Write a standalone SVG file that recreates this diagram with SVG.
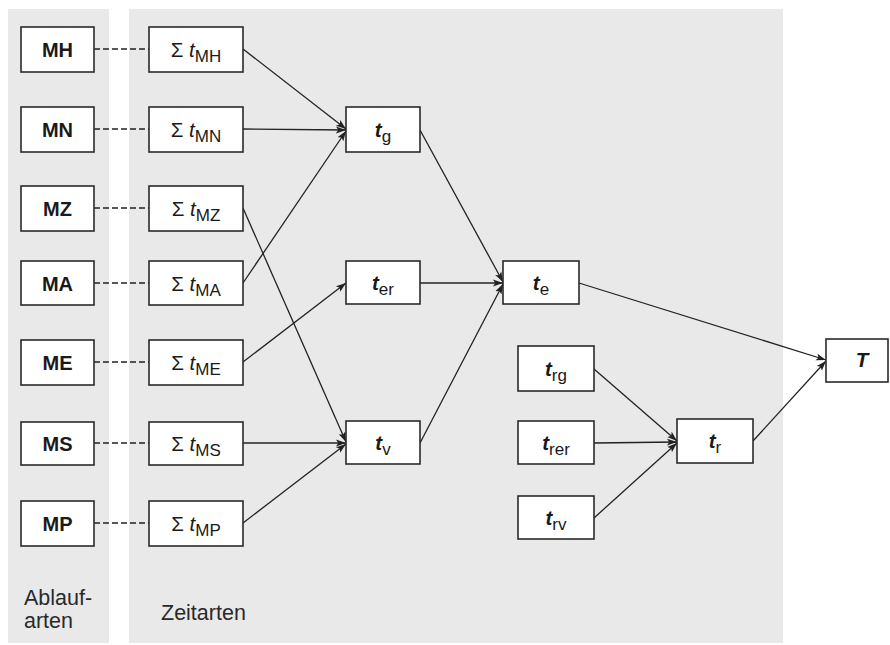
<svg xmlns="http://www.w3.org/2000/svg" width="890" height="645" viewBox="0 0 890 645">
<style>
text{font-family:"Liberation Sans",Arial,sans-serif;fill:#1a1a1a}
.box{fill:#fff;stroke:#2a2a2a;stroke-width:1.6}
.lb{font-size:20px;font-weight:bold}
.sg{font-size:20.5px}
.sub{font-size:17px;font-weight:normal;font-style:normal}
.it{font-style:italic}
.bi{font-style:italic;font-weight:bold}
.cap{font-size:21.5px;fill:#2a2a2a}
.dash{stroke:#222;stroke-width:1.3;stroke-dasharray:6,3;fill:none}
.arr{stroke:#222;stroke-width:1.3;fill:none;marker-end:url(#ah)}
</style>
<defs>
<marker id="ah" markerWidth="11" markerHeight="9" refX="10" refY="4.5" orient="auto" markerUnits="userSpaceOnUse">
<path d="M0,1 L10,4.5 L0,8 L2.2,4.5 Z" fill="#222"/>
</marker>
</defs>
<rect width="890" height="645" fill="#fff"/>
<rect x="8" y="9" width="101" height="634" fill="#e9e9e9"/>
<rect x="129" y="9" width="654" height="634" fill="#e9e9e9"/>

<g id="connectors">
<line class="dash" x1="94" y1="49" x2="149" y2="49"/>
<line class="dash" x1="94" y1="129" x2="149" y2="129"/>
<line class="dash" x1="94" y1="208" x2="149" y2="208"/>
<line class="dash" x1="94" y1="283" x2="149" y2="283"/>
<line class="dash" x1="94" y1="362" x2="149" y2="362"/>
<line class="dash" x1="94" y1="443" x2="149" y2="443"/>
<line class="dash" x1="94" y1="523" x2="149" y2="523"/>
<line class="arr" x1="243" y1="49" x2="346" y2="129"/>
<line class="arr" x1="243" y1="129" x2="346" y2="130"/>
<line class="arr" x1="243" y1="283" x2="346" y2="131"/>
<line class="arr" x1="243" y1="208" x2="346" y2="442"/>
<line class="arr" x1="243" y1="362" x2="346" y2="283"/>
<line class="arr" x1="243" y1="443" x2="346" y2="443"/>
<line class="arr" x1="243" y1="523" x2="346" y2="444"/>
<line class="arr" x1="420" y1="130" x2="503" y2="282"/>
<line class="arr" x1="420" y1="283" x2="503" y2="283"/>
<line class="arr" x1="420" y1="443" x2="503" y2="284"/>
<line class="arr" x1="579" y1="283" x2="826" y2="360"/>
<line class="arr" x1="594" y1="369" x2="677" y2="441"/>
<line class="arr" x1="594" y1="443" x2="677" y2="442"/>
<line class="arr" x1="594" y1="518" x2="677" y2="443"/>
<line class="arr" x1="753" y1="441" x2="826" y2="361"/>
</g>

<g id="MH"><rect class="box" x="21" y="27" width="73" height="45"/><text class="lb" x="57.5" y="57" text-anchor="middle">MH</text></g>
<g id="MN"><rect class="box" x="21" y="107" width="73" height="45"/><text class="lb" x="57.5" y="137" text-anchor="middle">MN</text></g>
<g id="MZ"><rect class="box" x="21" y="186" width="73" height="45"/><text class="lb" x="57.5" y="216" text-anchor="middle">MZ</text></g>
<g id="MA"><rect class="box" x="21" y="261" width="73" height="44"/><text class="lb" x="57.5" y="291" text-anchor="middle">MA</text></g>
<g id="ME"><rect class="box" x="21" y="340" width="73" height="45"/><text class="lb" x="57.5" y="370" text-anchor="middle">ME</text></g>
<g id="MS"><rect class="box" x="21" y="422" width="73" height="43"/><text class="lb" x="57.5" y="451" text-anchor="middle">MS</text></g>
<g id="MP"><rect class="box" x="21" y="501" width="73" height="45"/><text class="lb" x="57.5" y="531" text-anchor="middle">MP</text></g>

<g id="tMH"><rect class="box" x="149" y="27" width="94" height="45"/><text class="sg" x="196" y="57" text-anchor="middle">Σ <tspan class="it">t</tspan><tspan class="sub" dy="5">MH</tspan></text></g>
<g id="tMN"><rect class="box" x="149" y="107" width="94" height="45"/><text class="sg" x="196" y="137" text-anchor="middle">Σ <tspan class="it">t</tspan><tspan class="sub" dy="5">MN</tspan></text></g>
<g id="tMZ"><rect class="box" x="149" y="186" width="94" height="45"/><text class="sg" x="196" y="216" text-anchor="middle">Σ <tspan class="it">t</tspan><tspan class="sub" dy="5">MZ</tspan></text></g>
<g id="tMA"><rect class="box" x="149" y="261" width="94" height="44"/><text class="sg" x="196" y="291" text-anchor="middle">Σ <tspan class="it">t</tspan><tspan class="sub" dy="5">MA</tspan></text></g>
<g id="tME"><rect class="box" x="149" y="340" width="94" height="45"/><text class="sg" x="196" y="370" text-anchor="middle">Σ <tspan class="it">t</tspan><tspan class="sub" dy="5">ME</tspan></text></g>
<g id="tMS"><rect class="box" x="149" y="422" width="94" height="43"/><text class="sg" x="196" y="451" text-anchor="middle">Σ <tspan class="it">t</tspan><tspan class="sub" dy="5">MS</tspan></text></g>
<g id="tMP"><rect class="box" x="149" y="501" width="94" height="45"/><text class="sg" x="196" y="531" text-anchor="middle">Σ <tspan class="it">t</tspan><tspan class="sub" dy="5">MP</tspan></text></g>

<g id="tg"><rect class="box" x="346" y="107" width="74" height="45"/><text class="sg" x="383" y="137" text-anchor="middle"><tspan class="bi">t</tspan><tspan class="sub" dy="5">g</tspan></text></g>
<g id="ter"><rect class="box" x="346" y="261" width="74" height="43"/><text class="sg" x="383" y="290" text-anchor="middle"><tspan class="bi">t</tspan><tspan class="sub" dy="5">er</tspan></text></g>
<g id="tv"><rect class="box" x="346" y="421" width="74" height="43"/><text class="sg" x="383" y="450" text-anchor="middle"><tspan class="bi">t</tspan><tspan class="sub" dy="5">v</tspan></text></g>
<g id="te"><rect class="box" x="503" y="261" width="76" height="43"/><text class="sg" x="541" y="290" text-anchor="middle"><tspan class="bi">t</tspan><tspan class="sub" dy="5">e</tspan></text></g>
<g id="trg"><rect class="box" x="518" y="346" width="76" height="45"/><text class="sg" x="556" y="376" text-anchor="middle"><tspan class="bi">t</tspan><tspan class="sub" dy="5">rg</tspan></text></g>
<g id="trer"><rect class="box" x="518" y="421" width="76" height="43"/><text class="sg" x="556" y="450" text-anchor="middle"><tspan class="bi">t</tspan><tspan class="sub" dy="5">rer</tspan></text></g>
<g id="trv"><rect class="box" x="518" y="496" width="76" height="43"/><text class="sg" x="556" y="525" text-anchor="middle"><tspan class="bi">t</tspan><tspan class="sub" dy="5">rv</tspan></text></g>
<g id="tr"><rect class="box" x="677" y="419" width="76" height="44"/><text class="sg" x="715" y="448" text-anchor="middle"><tspan class="bi">t</tspan><tspan class="sub" dy="5">r</tspan></text></g>
<g id="T"><rect class="box" x="826" y="339" width="62" height="43"/><text class="sg bi" x="862" y="367" text-anchor="middle">T</text></g>

<text class="cap" x="24" y="605">Ablauf-</text>
<text class="cap" x="24" y="628">arten</text>
<text class="cap" x="161" y="620">Zeitarten</text>
</svg>
